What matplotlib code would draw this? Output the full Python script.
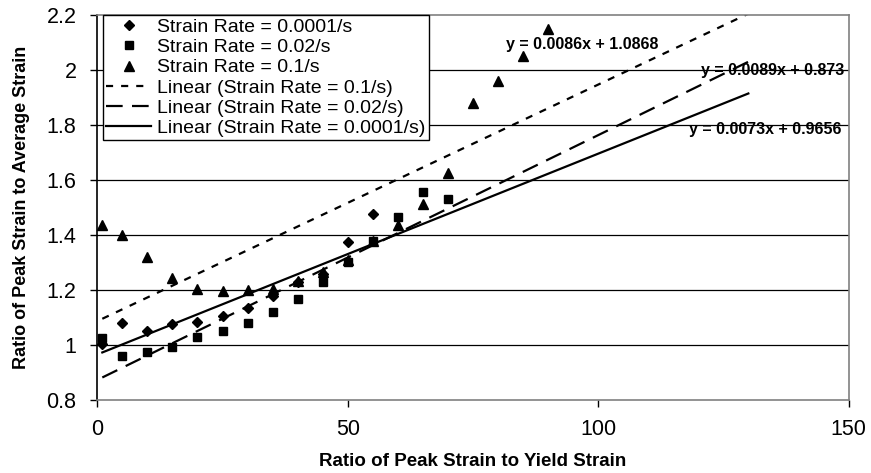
import matplotlib
matplotlib.use("Agg")
import matplotlib.pyplot as plt
import numpy as np

plt.rcParams['font.family'] = ['Liberation Sans', 'DejaVu Sans']

# ---- data ----
x_0001 = [1, 5, 10, 15, 20, 25, 30, 35, 40, 45, 50, 55]
y_0001 = [1.005, 1.079, 1.051, 1.076, 1.085, 1.107, 1.133, 1.177, 1.228, 1.258, 1.373, 1.476]

x_002 = [1, 5, 10, 15, 20, 25, 30, 35, 40, 45, 50, 55, 60, 65, 70]
y_002 = [1.024, 0.960, 0.973, 0.992, 1.030, 1.051, 1.079, 1.119, 1.167, 1.230,
         1.303, 1.379, 1.464, 1.557, 1.532]

x_01 = [1, 5, 10, 15, 20, 25, 30, 35, 40, 45, 50, 55, 60, 65, 70, 75, 80, 85, 90]
y_01 = [1.435, 1.400, 1.320, 1.245, 1.204, 1.197, 1.200, 1.205, 1.233, 1.264,
        1.310, 1.380, 1.436, 1.513, 1.624, 1.881, 1.961, 2.050, 2.149]

# trendline coefficients (slope, intercept) as shown on the chart
fit_01 = (0.0086, 1.0868)
fit_002 = (0.0089, 0.873)
fit_0001 = (0.0073, 0.9656)
trend_x = [1, 130]

xticks = [0, 50, 100, 150]
yticks = [0.8, 1.0, 1.2, 1.4, 1.6, 1.8, 2.0, 2.2]
ytick_labels = ['0.8', '1', '1.2', '1.4', '1.6', '1.8', '2', '2.2']

# ---- figure ----
fig = plt.figure(figsize=(8.71, 4.73), dpi=100)
ax = fig.add_axes([97.3 / 871, 1 - 400 / 473, (848.5 - 97.3) / 871, (400 - 15) / 473])

ax.set_xlim(0, 150)
ax.set_ylim(0.8, 2.2)

for yv in yticks[1:-1]:
    ax.axhline(yv, color='#000000', lw=0.9, zorder=1)

ax.plot(x_0001, y_0001, 'D', color='black', ms=4.6, ls='none', zorder=3,
        label='Strain Rate = 0.0001/s')
ax.plot(x_002, y_002, 's', color='black', ms=6.3, ls='none', zorder=3,
        label='Strain Rate = 0.02/s')
ax.plot(x_01, y_01, '^', color='black', ms=6.8, ls='none', zorder=3,
        label='Strain Rate = 0.1/s')

tx = np.array(trend_x, dtype=float)
ax.plot(tx, fit_01[0] * tx + fit_01[1], color='black', lw=1.6, zorder=2,
        dashes=(3.2, 3.6), label='Linear (Strain Rate = 0.1/s)')
ax.plot(tx, fit_002[0] * tx + fit_002[1], color='black', lw=1.6, zorder=2,
        dashes=(7.5, 4.2), label='Linear (Strain Rate = 0.02/s)')
ax.plot(tx, fit_0001[0] * tx + fit_0001[1], color='black', lw=1.6, zorder=2,
        label='Linear (Strain Rate = 0.0001/s)')

eq_kw = dict(fontsize=11.5, fontweight='bold', ha='left', va='center', zorder=4)
ax.text(81.6, 2.0945, 'y = 0.0086x + 1.0868', **eq_kw)
ax.text(120.6, 2.0, 'y = 0.0089x + 0.873', **eq_kw)
ax.text(118.1, 1.782, 'y = 0.0073x + 0.9656', **eq_kw)

ax.set_xticks(xticks)
ax.set_xticklabels([str(v) for v in xticks])
ax.set_yticks(yticks)
ax.set_yticklabels(ytick_labels)
ax.tick_params(axis='both', direction='out', length=5, width=1, labelsize=15.5,
               color='black')
ax.tick_params(axis='x', pad=9)
ax.tick_params(axis='y', pad=10)

for s in ['top', 'right', 'bottom']:
    ax.spines[s].set_color('#808080')
    ax.spines[s].set_linewidth(1.2)
ax.spines['left'].set_color('black')
ax.spines['left'].set_linewidth(1.2)

ax.set_xlabel('Ratio of Peak Strain to Yield Strain', fontsize=13.5, fontweight='bold',
              labelpad=9)
ax.set_ylabel('Ratio of Peak Strain to Average Strain', fontsize=13, fontweight='bold',
              labelpad=12)

leg = ax.legend(loc='upper left', bbox_to_anchor=(0.0072, 1.0), borderaxespad=0,
                fontsize=14, numpoints=1, handlelength=2.3, handletextpad=0.3,
                labelspacing=0.13, borderpad=0.18, frameon=True, fancybox=False,
                edgecolor='black', framealpha=1)
leg.get_frame().set_linewidth(1.0)
leg.set_zorder(5)

fig.savefig('out.png', dpi=100)
